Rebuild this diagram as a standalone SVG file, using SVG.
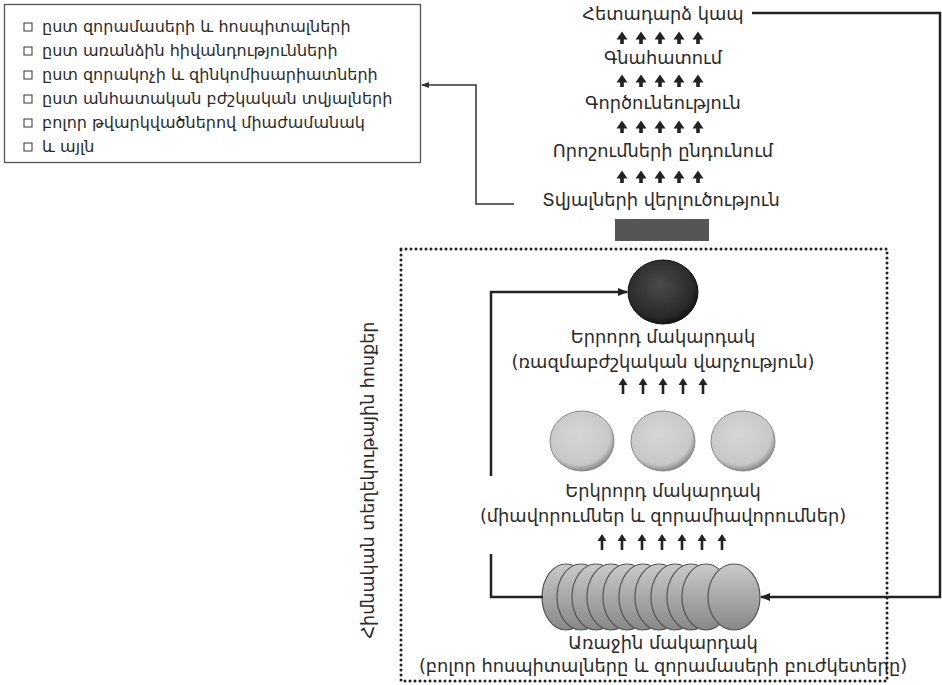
<svg xmlns="http://www.w3.org/2000/svg" width="942" height="685" viewBox="0 0 942 685">
<style>
text{font-family:"DejaVu Sans","Noto Sans",sans-serif;fill:#2a2a2a}
.lst{font-size:16px}
.lbl{font-size:17.8px;text-anchor:middle}
.ln{fill:none;stroke:#333;stroke-width:1.5}
.fb{fill:none;stroke:#222;stroke-width:2.5}
.dot{fill:none;stroke:#222;stroke-width:3;stroke-dasharray:0 5;stroke-linecap:round}
.chk{fill:#fff;stroke:#333;stroke-width:1}
.disk{fill:url(#gDisk);stroke:#555;stroke-width:1.2}
</style>
<defs>
<radialGradient id="gDark" cx="0.45" cy="0.4" r="0.6">
<stop offset="0" stop-color="#4a4a4a"/><stop offset="0.8" stop-color="#2a2a2a"/><stop offset="1" stop-color="#151515"/>
</radialGradient>
<radialGradient id="gLight" cx="0.45" cy="0.4" r="0.6">
<stop offset="0" stop-color="#d6d6d6"/><stop offset="0.82" stop-color="#c8c8c8"/><stop offset="1" stop-color="#8a8a8a"/>
</radialGradient>
<linearGradient id="gDisk" x1="0" y1="0" x2="0" y2="1">
<stop offset="0" stop-color="#cacaca"/><stop offset="0.5" stop-color="#a8a8a8"/><stop offset="1" stop-color="#888"/>
</linearGradient>
<path id="tri" d="M0,-6.5 L5.5,1.5 L1.8,1.5 L1.8,6 L-1.8,6 L-1.8,1.5 L-5.5,1.5 Z" fill="#222"/>
<path id="arr" d="M0,-8 L4.5,-1 L1.3,-1 L1.3,8 L-1.3,8 L-1.3,-1 L-4.5,-1 Z" fill="#222"/>
<marker id="ah" markerWidth="10" markerHeight="10" refX="9" refY="5" orient="auto" markerUnits="userSpaceOnUse">
<path d="M0,1 L10,5 L0,9 Z" fill="#222"/>
</marker>
<marker id="ah2" markerWidth="8" markerHeight="8" refX="7" refY="4" orient="auto" markerUnits="userSpaceOnUse">
<path d="M0,1 L8,4 L0,7 Z" fill="#333"/>
</marker>
</defs>
<rect width="942" height="685" fill="#fff"/>

<g id="list">
<rect x="4.5" y="4.5" width="416" height="158" fill="#fff" stroke="#555" stroke-width="1.3"/>
<rect class="chk" x="24" y="23" width="8" height="8"/>
<text class="lst" x="42" y="32">ըստ զորամասերի և հոսպիտալների</text>
<rect class="chk" x="24" y="47" width="8" height="8"/>
<text class="lst" x="42" y="56">ըստ առանձին հիվանդությունների</text>
<rect class="chk" x="24" y="71" width="8" height="8"/>
<text class="lst" x="42" y="80">ըստ զորակոչի և զինկոմիսարիատների</text>
<rect class="chk" x="24" y="95" width="8" height="8"/>
<text class="lst" x="42" y="104">ըստ անհատական բժշկական տվյալների</text>
<rect class="chk" x="24" y="119" width="8" height="8"/>
<text class="lst" x="42" y="128">բոլոր թվարկվածներով միաժամանակ</text>
<rect class="chk" x="24" y="143" width="8" height="8"/>
<text class="lst" x="42" y="152">և այլն</text>
</g>

<g id="feedback"><text class="lbl" x="663" y="20">Հետադարձ կապ</text></g>
<g id="arrows1"><use href="#tri" x="622" y="38"/><use href="#tri" x="641" y="38"/><use href="#tri" x="660" y="38"/><use href="#tri" x="679" y="38"/><use href="#tri" x="698" y="38"/></g>
<g id="assessment"><text class="lbl" x="663" y="64">Գնահատում</text></g>
<g id="arrows2"><use href="#tri" x="622" y="81"/><use href="#tri" x="641" y="81"/><use href="#tri" x="660" y="81"/><use href="#tri" x="679" y="81"/><use href="#tri" x="698" y="81"/></g>
<g id="activity"><text class="lbl" x="663" y="109">Գործունեություն</text></g>
<g id="arrows3"><use href="#tri" x="622" y="127"/><use href="#tri" x="641" y="127"/><use href="#tri" x="660" y="127"/><use href="#tri" x="679" y="127"/><use href="#tri" x="698" y="127"/></g>
<g id="decisions"><text class="lbl" x="663" y="157">Որոշումների ընդունում</text></g>
<g id="arrows4"><use href="#tri" x="622" y="177"/><use href="#tri" x="641" y="177"/><use href="#tri" x="660" y="177"/><use href="#tri" x="679" y="177"/><use href="#tri" x="698" y="177"/></g>
<g id="analysis"><text class="lbl" x="661" y="206">Տվյալների վերլուծություն</text></g>
<g id="bar"><rect x="615" y="219" width="94" height="22" fill="#555"/></g>

<g id="frame">
<rect class="dot" x="401" y="249" width="486" height="432"/>
<text font-size="17.5" text-anchor="middle" transform="translate(374,480) rotate(-90)">Հիմնական տեղեկութային հոսքեր</text>
</g>

<g id="level3">
<ellipse cx="663" cy="292" rx="35" ry="32" fill="url(#gDark)" stroke="#111" stroke-width="1"/>
<text class="lbl" x="663" y="343">Երրորդ մակարդակ</text>
<text class="lbl" x="663" y="368">(ռազմաբժշկական վարչություն)</text>
</g>
<g id="arrows5"><use href="#arr" x="623" y="386"/><use href="#arr" x="643" y="386"/><use href="#arr" x="663" y="386"/><use href="#arr" x="683" y="386"/><use href="#arr" x="703" y="386"/></g>

<g id="level2">
<ellipse cx="582" cy="441" rx="32" ry="30" fill="url(#gLight)" stroke="#888" stroke-width="1"/>
<ellipse cx="663" cy="441" rx="32" ry="30" fill="url(#gLight)" stroke="#888" stroke-width="1"/>
<ellipse cx="743" cy="441" rx="32" ry="30" fill="url(#gLight)" stroke="#888" stroke-width="1"/>
<text class="lbl" x="663" y="497">Երկրորդ մակարդակ</text>
<text class="lbl" x="663" y="522">(միավորումներ և զորամիավորումներ)</text>
</g>
<g id="arrows6"><use href="#arr" x="602" y="542"/><use href="#arr" x="622" y="542"/><use href="#arr" x="642" y="542"/><use href="#arr" x="662" y="542"/><use href="#arr" x="682" y="542"/><use href="#arr" x="702" y="542"/><use href="#arr" x="722" y="542"/></g>

<g id="level1">
<ellipse class="disk" cx="566" cy="597" rx="24" ry="33"/>
<ellipse class="disk" cx="581" cy="597" rx="24" ry="33"/>
<ellipse class="disk" cx="596" cy="597" rx="24" ry="33"/>
<ellipse class="disk" cx="611" cy="597" rx="24" ry="33"/>
<ellipse class="disk" cx="627" cy="597" rx="24" ry="33"/>
<ellipse class="disk" cx="643" cy="597" rx="24" ry="33"/>
<ellipse class="disk" cx="659" cy="597" rx="24" ry="33"/>
<ellipse class="disk" cx="675" cy="597" rx="24" ry="33"/>
<ellipse class="disk" cx="691" cy="597" rx="24" ry="33"/>
<ellipse class="disk" cx="706" cy="597" rx="24" ry="33"/>
<ellipse class="disk" cx="734" cy="597" rx="26" ry="33" fill="#a6a6a6"/>
<text class="lbl" x="663" y="649">Առաջին մակարդակ</text>
<text class="lbl" x="663" y="672">(բոլոր հոսպիտալները և զորամասերի բուժկետերը)</text>
</g>

<g id="connectors">
<path class="ln" d="M514,204 H476 V85 H422" marker-end="url(#ah2)"/>
<path class="fb" d="M752,13 H940 V597 H761" marker-end="url(#ah)"/>
<path class="fb" d="M491,476 V292 H627" marker-end="url(#ah)"/>
<path class="fb" d="M491,554 V597 H543"/>
</g>
</svg>
